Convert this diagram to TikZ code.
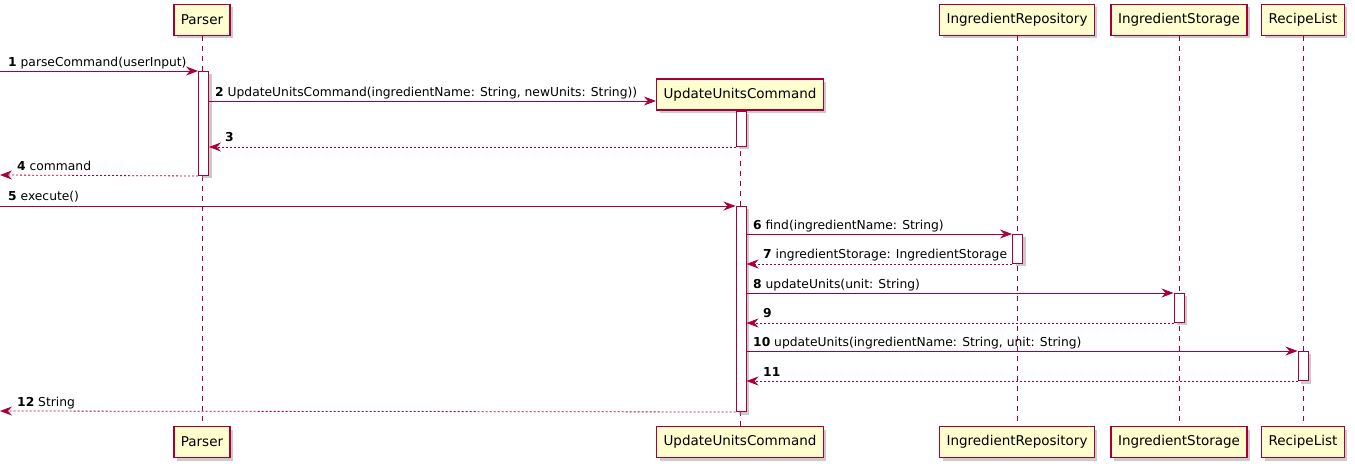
\documentclass[tikz,border=0pt]{standalone}
\usepackage{fontspec}
\setmainfont{DejaVu Sans}
\usetikzlibrary{arrows.meta,shadows}

\definecolor{umlred}{HTML}{A80036}
\definecolor{umlfill}{HTML}{FEFECE}

\tikzset{
  actor/.style={draw=umlred, fill=umlfill, line width=1.4pt, inner xsep=7pt,
    minimum height=31pt, font=\fontsize{13.5}{16}\selectfont,
    drop shadow={shadow xshift=3pt, shadow yshift=-3pt, fill=black!40, opacity=0.5}},
  activ/.style={draw=umlred, fill=white, line width=1pt, minimum width=10pt,
    inner sep=0pt, anchor=north,
    drop shadow={shadow xshift=3pt, shadow yshift=-3pt, fill=black!40, opacity=0.5}},
  life/.style={draw=umlred, line width=0.8pt, dash pattern=on 5pt off 5pt},
  msg/.style={draw=umlred, line width=0.8pt, -{Stealth[length=12pt, width=9pt, inset=4pt]}},
  ret/.style={msg, dash pattern=on 2pt off 2pt},
  lbl/.style={anchor=base west, inner sep=0pt, font=\fontsize{12.3}{14}\selectfont}
}

\begin{document}
\begin{tikzpicture}[x=1pt, y=-1pt]
\useasboundingbox (0,0) rectangle (1355,470);
\fill[white] (0,0) rectangle (1355,470);

% participants, top and bottom
\node[actor] (parser) at (202,20) {Parser};
\node[actor] (uuc) at (740,94.5) {UpdateUnitsCommand};
\node[actor] (repo) at (1017,20) {IngredientRepository};
\node[actor] (storage) at (1179,20) {IngredientStorage};
\node[actor] (recipes) at (1303,20) {RecipeList};

\node[actor] (parserB) at (202,442) {Parser};
\node[actor] (uucB) at (740,442) {UpdateUnitsCommand};
\node[actor] (repoB) at (1017,442) {IngredientRepository};
\node[actor] (storageB) at (1179,442) {IngredientStorage};
\node[actor] (recipesB) at (1303,442) {RecipeList};

% lifelines
\draw[life] (parser) -- (parserB);
\draw[life] (uuc) -- (uucB);
\draw[life] (repo) -- (repoB);
\draw[life] (storage) -- (storageB);
\draw[life] (recipes) -- (recipesB);

% activations
\node[activ, minimum height=104pt] (parserAct) at (203.5,71) {};
\node[activ, minimum height=35pt] (uucActA) at (741,111) {};
\node[activ, minimum height=205pt] (uucActB) at (741,206) {};
\node[activ, minimum height=29pt] (repoAct) at (1017.5,234) {};
\node[activ, minimum height=29pt] (storageAct) at (1179,293) {};
\node[activ, minimum height=29pt] (recipesAct) at (1303,351) {};

% free ends on the left
\coordinate (in1) at (0,71);
\coordinate (out4) at (0,175);
\coordinate (in5) at (0,206);
\coordinate (out12) at (0,411);
\coordinate (y2) at (0,101);

% messages
\draw[msg] (in1) -- (parserAct.north west);
\node[lbl] (l1) at (8,67) {\textbf{1} parseCommand(userInput)};

\draw[msg] (parserAct.east |- y2) -- (uuc.west |- y2);
\node[lbl] (l2) at (215,97) {\textbf{2} UpdateUnitsCommand(ingredientName: String, newUnits: String))};

\draw[ret] (uucActA.south west) -- (parserAct.east |- uucActA.south);
\node[lbl] (l3) at (225,142) {\textbf{3}};

\draw[ret] (parserAct.south west) -- (out4);
\node[lbl] (l4) at (17,171) {\textbf{4} command};

\draw[msg] (in5) -- (uucActB.north west);
\node[lbl] (l5) at (8,201) {\textbf{5} execute()};

\draw[msg] (uucActB.east |- repoAct.north) -- (repoAct.north west);
\node[lbl] (l6) at (753,230) {\textbf{6} find(ingredientName: String)};

\draw[ret] (repoAct.south west) -- (uucActB.east |- repoAct.south);
\node[lbl] (l7) at (763,259) {\textbf{7} ingredientStorage: IngredientStorage};

\draw[msg] (uucActB.east |- storageAct.north) -- (storageAct.north west);
\node[lbl] (l8) at (753,289) {\textbf{8} updateUnits(unit: String)};

\draw[ret] (storageAct.south west) -- (uucActB.east |- storageAct.south);
\node[lbl] (l9) at (763,318) {\textbf{9}};

\draw[msg] (uucActB.east |- recipesAct.north) -- (recipesAct.north west);
\node[lbl] (l10) at (753,347) {\textbf{10} updateUnits(ingredientName: String, unit: String)};

\draw[ret] (recipesAct.south west) -- (uucActB.east |- recipesAct.south);
\node[lbl] (l11) at (763,376) {\textbf{11}};

\draw[ret] (uucActB.south west) -- (out12);
\node[lbl] (l12) at (17,406) {\textbf{12} String};
\end{tikzpicture}
\end{document}
